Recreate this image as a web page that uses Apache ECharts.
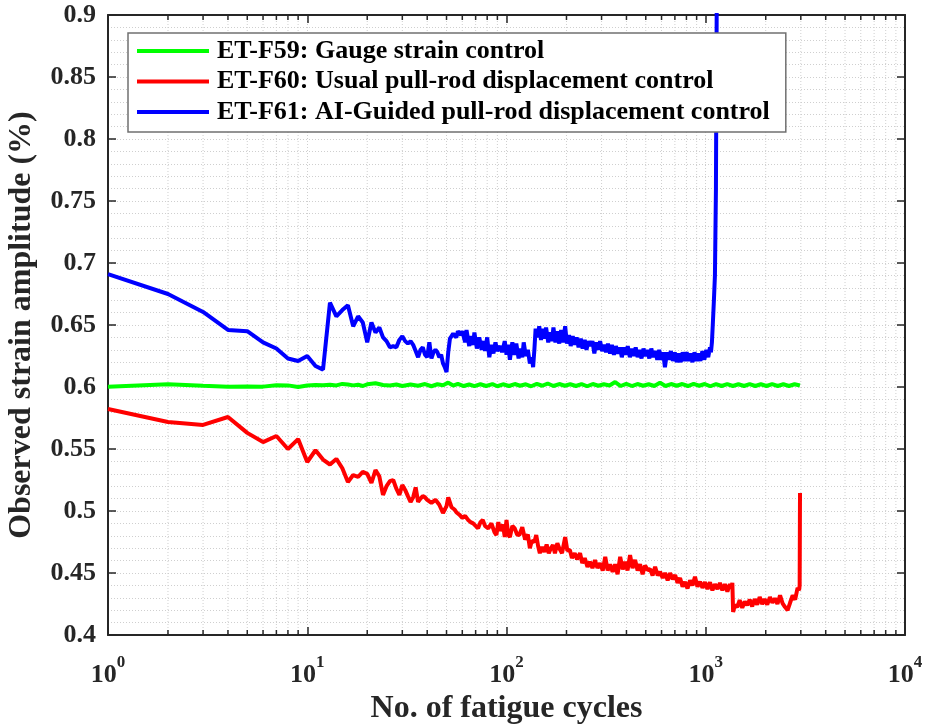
<!DOCTYPE html>
<html><head><meta charset="utf-8">
<script src="https://cdn.jsdelivr.net/npm/echarts@6/dist/echarts.min.js"></script>
<style>html,body{margin:0;padding:0;background:#fff}#c{width:927px;height:727px}</style>
</head><body><div id="c"></div>
<script>
const FONT = '"Liberation Serif","Times New Roman",serif';

const seriesNames = [
  'ET-F59: Gauge strain control',
  'ET-F60: Usual pull-rod displacement control',
  'ET-F61: AI-Guided pull-rod displacement control'
];
const seriesColors = ['#00ff00', '#ff0000', '#0000ff'];
const xTitle = 'No. of fatigue cycles';
const yTitle = 'Observed strain amplitude (%)';

const greenCycles = [1,2,3,4,5,6,7,8,9,10,11,12,13,14,15,16,17,18,19,20,22,24,26,28,30,33,36,39,42,45,48,51,54,57,61,65,69,74,79,85,90,96,103,110,117,125,133,142,151,161,172,184,196,209,223,238,254,271,289,308,329,351,374,399,426,454,485,517,552,589,628,670,715,763,814,869,927,989,1055,1126,1201,1282,1368,1459,1557,1661,1773,1891,2018,2153,2298,2452,2616,2791,2970];
const greenStrain = [0.6003,0.6022,0.6010,0.6003,0.6004,0.6003,0.6015,0.6013,0.6000,0.6012,0.6016,0.6014,0.6018,0.6013,0.6025,0.6020,0.6013,0.6018,0.6008,0.6022,0.6030,0.6016,0.6012,0.6020,0.6008,0.6020,0.6010,0.6024,0.6006,0.6022,0.6014,0.6035,0.6012,0.6026,0.6008,0.6020,0.6007,0.6022,0.6008,0.6023,0.6006,0.6022,0.6008,0.6024,0.6010,0.6022,0.6006,0.6025,0.6010,0.6028,0.6008,0.6024,0.6010,0.6022,0.6008,0.6024,0.6006,0.6024,0.6010,0.6022,0.6012,0.6040,0.6008,0.6026,0.6008,0.6024,0.6010,0.6022,0.6008,0.6034,0.6008,0.6024,0.6010,0.6024,0.6008,0.6025,0.6010,0.6024,0.6006,0.6024,0.6008,0.6024,0.6008,0.6022,0.6008,0.6024,0.6008,0.6022,0.6008,0.6024,0.6008,0.6022,0.6008,0.6022,0.6012];

const redCycles = [1,2,3,4,5,6,7,8,9,10,11,12,13,14,15,16,17,18,19,20,21,22,23,24,25,26,27,28,29,30,31,32,33,34,35,36,37,38,39,40,42,44,45,46,48,50,51,53,55,56,58,60,62,64,66,68,70,72,74,76,78,81,84,87,89,91,93,96,98,100,102,104,107,110,113,116,120,124,128,131,134,138,141,144,147,151,155,159,163,167,171,175,180,184,190,197,202,208,213,220,226,234,240,247,255,262,270,278,286,295,304,313,322,331,341,351,361,372,383,394,405,417,429,442,455,468,482,496,511,526,541,557,574,590,608,625,644,662,682,702,722,743,765,787,810,834,858,883,909,936,963,991,1020,1050,1080,1112,1145,1178,1212,1248,1284,1322,1345,1360,1372,1400,1440,1480,1525,1570,1615,1662,1710,1760,1812,1865,1920,1975,2035,2100,2160,2225,2290,2360,2430,2500,2575,2650,2730,2810,2890,2940,2960,2968,2972];
const redStrain = [0.5823,0.5718,0.5694,0.5758,0.563,0.5556,0.5605,0.550,0.558,0.5395,0.549,0.5415,0.5375,0.542,0.5345,0.5234,0.529,0.5276,0.5315,0.530,0.5226,0.533,0.528,0.513,0.520,0.524,0.525,0.518,0.513,0.521,0.517,0.512,0.5073,0.511,0.519,0.5073,0.510,0.512,0.511,0.509,0.5065,0.509,0.5105,0.505,0.4984,0.504,0.511,0.503,0.501,0.499,0.497,0.4944,0.496,0.493,0.491,0.490,0.488,0.486,0.491,0.4927,0.488,0.486,0.490,0.483,0.4806,0.491,0.484,0.489,0.479,0.4927,0.481,0.479,0.488,0.486,0.481,0.4806,0.487,0.477,0.481,0.470,0.476,0.475,0.4806,0.472,0.466,0.471,0.467,0.473,0.466,0.470,0.4726,0.466,0.474,0.470,0.466,0.479,0.468,0.4685,0.462,0.466,0.461,0.466,0.458,0.462,0.455,0.459,0.454,0.4605,0.454,0.458,0.452,0.463,0.452,0.457,0.451,0.457,0.449,0.463,0.453,0.459,0.452,0.4645,0.454,0.4605,0.452,0.457,0.449,0.456,0.4524,0.453,0.448,0.455,0.448,0.451,0.446,0.450,0.444,0.450,0.445,0.4484,0.442,0.446,0.439,0.4427,0.4375,0.444,0.440,0.447,0.439,0.443,0.438,0.4427,0.437,0.4425,0.436,0.441,0.437,0.442,0.436,0.441,0.435,0.441,0.438,0.442,0.4185,0.424,0.4226,0.428,0.422,0.427,0.424,0.4285,0.423,0.429,0.4245,0.4306,0.425,0.429,0.4245,0.4306,0.426,0.4295,0.425,0.432,0.4255,0.4225,0.420,0.426,0.432,0.4285,0.438,0.436,0.440,0.490,0.5145];

const blueCycles = [1,2,3,4,5,6,7,8,9,10,11,12,13,14,15,16,17,18,19,20,21,22,23,24,25,26,27,28,29,30,31,32,33,34,35,36,37,38,39,40,41,42,43,44,45,46,47,48,49,50,51,52,53,54,55,56,57,58,59,60,62,63,65,66,68,69,71,73,75,77,78,80,82,84,86,88,90,93,95,98,100,102,104,107,110,112,115,117,120,122,125,128,131,134,136,138,140,143,146,149,152,155,158,162,165,169,172,176,180,184,188,192,197,201,206,210,215,220,225,230,236,241,247,252,258,264,270,276,282,289,295,302,309,316,323,331,338,346,354,362,371,379,388,397,406,416,425,435,445,455,466,476,487,498,510,521,533,546,558,571,584,597,611,624,639,653,668,684,699,715,732,749,766,784,802,820,839,858,878,898,919,940,962,984,1006,1029,1050,1062,1074,1086,1099,1112,1125,1138];
const blueStrain = [0.691,0.675,0.6605,0.646,0.645,0.636,0.631,0.623,0.621,0.625,0.617,0.614,0.668,0.657,0.662,0.666,0.649,0.657,0.652,0.636,0.652,0.644,0.648,0.640,0.637,0.632,0.633,0.632,0.638,0.641,0.637,0.635,0.637,0.634,0.629,0.624,0.630,0.632,0.626,0.624,0.636,0.623,0.628,0.630,0.628,0.624,0.626,0.619,0.616,0.612,0.628,0.639,0.641,0.643,0.643,0.640,0.645,0.646,0.642,0.645,0.636,0.646,0.633,0.641,0.634,0.644,0.631,0.640,0.630,0.637,0.629,0.640,0.624,0.634,0.627,0.636,0.629,0.633,0.628,0.637,0.626,0.634,0.622,0.636,0.626,0.635,0.623,0.631,0.624,0.636,0.625,0.630,0.619,0.624,0.616,0.630,0.647,0.640,0.649,0.638,0.647,0.639,0.648,0.636,0.644,0.637,0.648,0.636,0.645,0.635,0.646,0.636,0.649,0.635,0.642,0.633,0.641,0.634,0.640,0.632,0.639,0.631,0.638,0.630,0.637,0.633,0.637,0.627,0.636,0.630,0.637,0.629,0.634,0.628,0.635,0.627,0.634,0.626,0.633,0.627,0.632,0.624,0.632,0.626,0.633,0.624,0.631,0.625,0.632,0.624,0.630,0.623,0.631,0.625,0.630,0.623,0.631,0.624,0.629,0.622,0.630,0.622,0.628,0.616,0.628,0.622,0.629,0.621,0.628,0.620,0.627,0.620,0.628,0.621,0.628,0.621,0.627,0.620,0.628,0.621,0.627,0.621,0.629,0.622,0.630,0.624,0.632,0.628,0.636,0.652,0.670,0.690,0.760,0.950];

const yMin = 0.4, yMax = 0.9, yStep = 0.05;
const xMin = 1, xMax = 10000;

const pair = (xs, ys) => xs.map((x, i) => [x, ys[i]]);
const AX = '#262626';
const GRIDC = '#cfcfcf';
const LW = 4;

const chart = echarts.init(document.getElementById('c'), null, {renderer: 'canvas'});

const baseX = {
  type: 'log', logBase: 10, min: xMin, max: xMax,
  axisLine: {show: true, onZero: false, lineStyle: {color: AX, width: 2}},
  axisTick: {show: true, inside: true, length: 8, lineStyle: {color: AX, width: 1.5}},
  minorTick: {show: false},
  minorSplitLine: {show: false}
};
const baseY = {
  type: 'value', min: yMin, max: yMax, interval: yStep,
  axisLine: {show: true, onZero: false, lineStyle: {color: AX, width: 2}},
  axisTick: {show: true, inside: true, length: 8, lineStyle: {color: AX, width: 1.5}},
  minorTick: {show: false, splitNumber: 5}
};

chart.setOption({
  animation: false,
  backgroundColor: '#fff',
  grid: {left: 108, right: 22, top: 15, bottom: 92, outerBoundsMode: 'none'},
  legend: {
    data: seriesNames,
    orient: 'vertical', left: 128, top: 33,
    icon: 'rect', itemWidth: 72, itemHeight: 4, itemGap: 4.5,
    padding: [5, 16, 7, 9],
    backgroundColor: '#fff', borderColor: '#707070', borderWidth: 1.5, borderRadius: 0,
    textStyle: {fontFamily: FONT, fontWeight: 'bold', fontSize: 26, color: '#000', lineHeight: 26, padding: [0, 0, 0, 3]}
  },
  xAxis: [
    Object.assign({}, baseX, {
      position: 'bottom',
      axisLabel: {
        show: true, margin: 19,
        formatter: v => '{b|10}{s|' + Math.round(Math.log10(v)) + '}',
        rich: {
          b: {fontFamily: FONT, fontWeight: 'bold', fontSize: 26, color: AX, lineHeight: 34, verticalAlign: 'bottom'},
          s: {fontFamily: FONT, fontWeight: 'bold', fontSize: 17, color: AX, lineHeight: 18, verticalAlign: 'top'}
        }
      },
      splitLine: {show: true, lineStyle: {color: GRIDC, type: [1, 2], width: 1}},
      name: xTitle, nameLocation: 'middle', nameGap: 58,
      nameTextStyle: {fontFamily: FONT, fontWeight: 'bold', fontSize: 32, color: AX}
    }),
    Object.assign({}, baseX, {
      position: 'top',
      axisLabel: {show: false},
      splitLine: {show: false}
    })
  ],
  yAxis: [
    Object.assign({}, baseY, {
      position: 'left',
      axisLabel: {show: true, margin: 12, fontFamily: FONT, fontWeight: 'bold', fontSize: 26, color: AX,
        formatter: v => String(+v.toFixed(2))},
      splitLine: {show: true, lineStyle: {color: GRIDC, type: [1, 2], width: 1}},
      minorSplitLine: {show: true, lineStyle: {color: GRIDC, type: [1, 2], width: 1}},
      name: yTitle, nameLocation: 'middle', nameGap: 70, nameRotate: 90,
      nameTextStyle: {fontFamily: FONT, fontWeight: 'bold', fontSize: 32, color: AX}
    }),
    Object.assign({}, baseY, {
      position: 'right',
      axisLabel: {show: false},
      splitLine: {show: false}
    })
  ],
  series: [
    {name: seriesNames[0], type: 'line', data: pair(greenCycles, greenStrain), symbol: 'none', clip: true,
     lineStyle: {color: seriesColors[0], width: LW}, itemStyle: {color: seriesColors[0]}},
    {name: seriesNames[1], type: 'line', data: pair(redCycles, redStrain), symbol: 'none', clip: true,
     lineStyle: {color: seriesColors[1], width: LW}, itemStyle: {color: seriesColors[1]}},
    {name: seriesNames[2], type: 'line', data: pair(blueCycles, blueStrain), symbol: 'none', clip: true,
     lineStyle: {color: seriesColors[2], width: LW}, itemStyle: {color: seriesColors[2]}}
  ]
});

// minor log ticks and minor grid lines, positioned through the axis scale
const yTop = chart.convertToPixel({yAxisIndex: 0}, yMax);
const yBot = chart.convertToPixel({yAxisIndex: 0}, yMin);
const els = [];
for (let k = 0; k < 4; k++) {
  for (let m = 2; m <= 9; m++) {
    const x = chart.convertToPixel({xAxisIndex: 0}, m * Math.pow(10, k));
    els.push({type: 'line', silent: true, z: 0, shape: {x1: x, y1: yTop, x2: x, y2: yBot},
      style: {stroke: GRIDC, lineWidth: 1, lineDash: [1, 2]}});
    els.push({type: 'line', silent: true, z: 1, shape: {x1: x, y1: yBot, x2: x, y2: yBot - 5},
      style: {stroke: AX, lineWidth: 1.5}});
    els.push({type: 'line', silent: true, z: 1, shape: {x1: x, y1: yTop, x2: x, y2: yTop + 5},
      style: {stroke: AX, lineWidth: 1.5}});
  }
}
chart.setOption({graphic: {elements: els}});
</script>
</body></html>
